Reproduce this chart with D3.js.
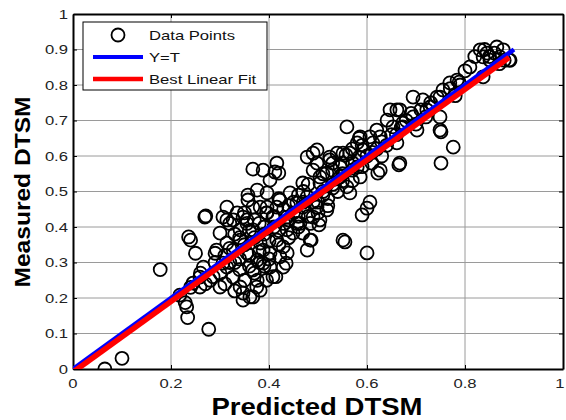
<!DOCTYPE html>
<html>
<head>
<meta charset="utf-8">
<script src="https://cdn.jsdelivr.net/npm/d3@7"></script>
<style>
  body { margin: 0; background: #fff; }
  text { font-family: Arial, "Liberation Sans", sans-serif; }
</style>
</head>
<body>
<div id="chart"></div>
<script>
// Predicted vs measured DTSM
const predicted = [
  0.065, 0.10, 0.178, 0.218, 0.232, 0.234, 0.229, 0.240, 0.236, 0.250,
  0.245, 0.259, 0.271, 0.277, 0.290, 0.266, 0.286, 0.300, 0.293, 0.306,
  0.320, 0.327, 0.341, 0.347, 0.361, 0.375, 0.395, 0.408, 0.367, 0.388,
  0.402, 0.422, 0.429, 0.300, 0.259, 0.314, 0.341, 0.355, 0.367, 0.382,
  0.327, 0.314, 0.314, 0.335, 0.355, 0.367, 0.395, 0.416, 0.437, 0.457,
  0.469, 0.484, 0.478, 0.437, 0.429, 0.402, 0.376, 0.382, 0.347, 0.306,
  0.314, 0.341, 0.355, 0.376, 0.388, 0.416, 0.437, 0.469, 0.490, 0.367,
  0.416, 0.412, 0.478, 0.490, 0.524, 0.539, 0.565, 0.571, 0.490, 0.518,
  0.545, 0.469, 0.504, 0.559, 0.565, 0.388, 0.402, 0.396, 0.422, 0.443,
  0.457, 0.478, 0.498, 0.518, 0.504, 0.484, 0.463, 0.408, 0.396, 0.449,
  0.551, 0.559, 0.647, 0.667, 0.641, 0.653, 0.620, 0.673, 0.586, 0.606,
  0.627, 0.612, 0.580, 0.592, 0.661, 0.667, 0.627, 0.498, 0.524, 0.551,
  0.545, 0.498, 0.580, 0.586, 0.504, 0.694, 0.714, 0.749, 0.769, 0.784,
  0.661, 0.673, 0.694, 0.729, 0.749, 0.776, 0.702, 0.831, 0.845, 0.865,
  0.878, 0.892, 0.871, 0.837, 0.851, 0.810, 0.837, 0.755, 0.743, 0.722,
  0.749, 0.606, 0.600, 0.590, 0.555, 0.600, 0.502, 0.486, 0.435, 0.414,
  0.584, 0.751, 0.751, 0.788, 0.665, 0.622, 0.557, 0.584, 0.420, 0.367,
  0.376, 0.357, 0.357, 0.269, 0.327, 0.347, 0.382, 0.396, 0.330, 0.350,
  0.370, 0.390, 0.410, 0.430, 0.450, 0.470, 0.490, 0.510, 0.530, 0.550,
  0.570, 0.600, 0.620, 0.640, 0.660, 0.680, 0.700, 0.720, 0.630, 0.610,
  0.540, 0.520, 0.500, 0.460, 0.440, 0.420, 0.400, 0.380, 0.360, 0.340,
  0.320, 0.300, 0.280, 0.310, 0.330, 0.350, 0.370, 0.390, 0.310, 0.290,
  0.260, 0.270, 0.240, 0.320, 0.340, 0.360, 0.380, 0.400, 0.420, 0.440,
  0.460, 0.480, 0.500, 0.520, 0.530, 0.550, 0.570, 0.590, 0.470, 0.450,
  0.430, 0.410, 0.380, 0.360, 0.340, 0.330, 0.350, 0.370, 0.390, 0.420,
  0.440, 0.460, 0.480, 0.510, 0.530, 0.820, 0.850, 0.860, 0.880, 0.870,
  0.890, 0.840, 0.800, 0.790, 0.770, 0.780, 0.730, 0.710, 0.690, 0.670,
  0.650, 0.630, 0.610, 0.590, 0.570, 0.550, 0.530, 0.510
];
const measured = [
  0.000, 0.030, 0.280, 0.208, 0.175, 0.145, 0.187, 0.363, 0.372, 0.326,
  0.242, 0.231, 0.431, 0.112, 0.326, 0.287, 0.260, 0.231, 0.335, 0.428,
  0.410, 0.335, 0.231, 0.194, 0.203, 0.231, 0.250, 0.260, 0.279, 0.298,
  0.327, 0.316, 0.344, 0.383, 0.259, 0.287, 0.392, 0.420, 0.392, 0.355,
  0.259, 0.456, 0.420, 0.440, 0.410, 0.456, 0.440, 0.456, 0.428, 0.410,
  0.383, 0.363, 0.335, 0.327, 0.287, 0.287, 0.250, 0.222, 0.214, 0.298,
  0.355, 0.363, 0.327, 0.307, 0.335, 0.363, 0.392, 0.456, 0.428, 0.203,
  0.580, 0.555, 0.597, 0.608, 0.589, 0.608, 0.608, 0.580, 0.560, 0.552,
  0.541, 0.524, 0.524, 0.513, 0.496, 0.560, 0.532, 0.496, 0.476, 0.496,
  0.468, 0.485, 0.456, 0.448, 0.420, 0.410, 0.410, 0.428, 0.456, 0.383,
  0.363, 0.682, 0.730, 0.730, 0.701, 0.682, 0.673, 0.682, 0.654, 0.654,
  0.654, 0.637, 0.637, 0.617, 0.637, 0.580, 0.560, 0.617, 0.597, 0.608,
  0.569, 0.580, 0.569, 0.541, 0.541, 0.766, 0.758, 0.766, 0.806, 0.814,
  0.730, 0.693, 0.710, 0.738, 0.673, 0.625, 0.673, 0.899, 0.890, 0.907,
  0.899, 0.870, 0.879, 0.879, 0.870, 0.851, 0.823, 0.786, 0.766, 0.730,
  0.710, 0.470, 0.453, 0.434, 0.358, 0.327, 0.406, 0.363, 0.298, 0.260,
  0.650, 0.580, 0.668, 0.808, 0.575, 0.552, 0.603, 0.597, 0.552, 0.563,
  0.504, 0.490, 0.476, 0.428, 0.420, 0.428, 0.456, 0.440, 0.300, 0.350,
  0.370, 0.380, 0.400, 0.410, 0.440, 0.470, 0.470, 0.500, 0.520, 0.550,
  0.560, 0.600, 0.620, 0.630, 0.660, 0.700, 0.690, 0.710, 0.600, 0.580,
  0.500, 0.480, 0.470, 0.430, 0.420, 0.390, 0.360, 0.330, 0.320, 0.310,
  0.300, 0.270, 0.250, 0.240, 0.220, 0.250, 0.270, 0.290, 0.320, 0.300,
  0.270, 0.240, 0.230, 0.340, 0.280, 0.290, 0.300, 0.310, 0.350, 0.370,
  0.400, 0.430, 0.440, 0.460, 0.560, 0.580, 0.620, 0.630, 0.500, 0.470,
  0.450, 0.430, 0.410, 0.390, 0.370, 0.380, 0.440, 0.420, 0.400, 0.480,
  0.460, 0.490, 0.520, 0.550, 0.580, 0.880, 0.880, 0.890, 0.870, 0.860,
  0.870, 0.900, 0.840, 0.800, 0.790, 0.770, 0.750, 0.730, 0.720, 0.680,
  0.660, 0.640, 0.610, 0.570, 0.530, 0.530, 0.510, 0.490
];
const xTicks = [0, 0.2, 0.4, 0.6, 0.8, 1];
const xTickLabels = ["0", "0.2", "0.4", "0.6", "0.8", "1"];
const yTicks = [0, 0.1, 0.2, 0.3, 0.4, 0.5, 0.6, 0.7, 0.8, 0.9, 1];
const yTickLabels = ["0", "0.1", "0.2", "0.3", "0.4", "0.5", "0.6", "0.7", "0.8", "0.9", "1"];
// line ends [x0, x1] and fit coefficients
const identityRange = [0, 0.9];
const fitRange = [0, 0.89];
const fitSlope = 0.996;
const fitIntercept = -0.009;
const legendLabels = ["Data Points", "Y=T", "Best Linear Fit"];

const W = 566, H = 420;
const m = { left: 73, right: 563, top: 14, bottom: 369 };
const sx = 1.28; // picture text is stretched sideways

const svg = d3.select("#chart").append("svg")
  .attr("width", W).attr("height", H);

const x = d3.scaleLinear().domain([0, 1]).range([m.left, m.right]);
const y = d3.scaleLinear().domain([0, 1]).range([m.bottom, m.top]);

svg.append("clipPath").attr("id", "plot-clip")
  .append("rect").attr("x", m.left).attr("y", m.top)
  .attr("width", m.right - m.left).attr("height", m.bottom - m.top);

// grid
const grid = svg.append("g").attr("stroke", "#9a9a9a").attr("stroke-width", 1);
grid.selectAll(".gx").data(xTicks.slice(1, -1)).enter().append("line")
  .attr("x1", d => x(d)).attr("x2", d => x(d)).attr("y1", m.top).attr("y2", m.bottom);
grid.selectAll(".gy").data(yTicks.slice(1, -1)).enter().append("line")
  .attr("y1", d => y(d)).attr("y2", d => y(d)).attr("x1", m.left).attr("x2", m.right);

// axes with inward ticks on all sides
const axB = svg.append("g").attr("transform", `translate(0,${m.bottom})`)
  .call(d3.axisBottom(x).tickValues(xTicks).tickSizeInner(-4).tickSizeOuter(0).tickFormat(""));
const axT = svg.append("g").attr("transform", `translate(0,${m.top})`)
  .call(d3.axisTop(x).tickValues(xTicks).tickSizeInner(-4).tickSizeOuter(0).tickFormat(""));
const axL = svg.append("g").attr("transform", `translate(${m.left},0)`)
  .call(d3.axisLeft(y).tickValues(yTicks).tickSizeInner(-4).tickSizeOuter(0).tickFormat(""));
const axR = svg.append("g").attr("transform", `translate(${m.right},0)`)
  .call(d3.axisRight(y).tickValues(yTicks).tickSizeInner(-4).tickSizeOuter(0).tickFormat(""));
[axB, axT, axL, axR].forEach(a => {
  a.select(".domain").attr("stroke", "#000").attr("stroke-width", 2);
  a.selectAll(".tick line").attr("stroke", "#000").attr("stroke-width", 1);
});

// tick labels (last one nudged so it stays inside the page)
svg.append("g").selectAll("text").data(xTicks).enter().append("text")
  .attr("transform", d => `translate(${Math.min(x(d), W - 6)},388) scale(${sx},1)`)
  .attr("text-anchor", "middle").attr("font-size", 13).attr("fill", "#222")
  .text((d, i) => xTickLabels[i]);
svg.append("g").selectAll("text").data(yTicks).enter().append("text")
  .attr("transform", d => `translate(68,${y(d) + 4.5}) scale(${sx},1)`)
  .attr("text-anchor", "end").attr("font-size", 13).attr("fill", "#222")
  .text((d, i) => yTickLabels[i]);

// axis titles
svg.append("text")
  .attr("x", 317).attr("y", 415)
  .attr("text-anchor", "middle").attr("font-size", 23).attr("font-weight", "bold")
  .attr("textLength", 211).attr("lengthAdjust", "spacingAndGlyphs")
  .text("Predicted DTSM");
svg.append("text")
  .attr("transform", "translate(30,192) rotate(-90)")
  .attr("text-anchor", "middle").attr("font-size", 22).attr("font-weight", "bold")
  .attr("textLength", 191).attr("lengthAdjust", "spacingAndGlyphs")
  .text("Measured DTSM");

// data
const pts = predicted.map((p, i) => ({ p, v: measured[i] }));
const plot = svg.append("g").attr("clip-path", "url(#plot-clip)");
plot.selectAll("circle").data(pts).enter().append("circle")
  .attr("cx", d => x(d.p)).attr("cy", d => y(d.v)).attr("r", 6.5)
  .attr("fill", "none").attr("stroke", "#000").attr("stroke-width", 1.8);

const line = d3.line().x(d => x(d[0])).y(d => y(d[1]));
plot.append("path")
  .attr("d", line(identityRange.map(v => [v, v])))
  .attr("stroke", "#0000ff").attr("stroke-width", 4.5).attr("fill", "none");
plot.append("path")
  .attr("d", line(fitRange.map(v => [v, fitSlope * v + fitIntercept])))
  .attr("stroke", "#ff0000").attr("stroke-width", 5.5).attr("fill", "none");

// legend
const lg = svg.append("g");
lg.append("rect").attr("x", 83).attr("y", 22).attr("width", 184).attr("height", 68)
  .attr("fill", "#fff").attr("stroke", "#000").attr("stroke-width", 1);
const rowsY = [35, 57, 79];
lg.append("circle").attr("cx", 118).attr("cy", rowsY[0]).attr("r", 6.5)
  .attr("fill", "none").attr("stroke", "#000").attr("stroke-width", 1.8);
lg.append("line").attr("x1", 93).attr("x2", 143).attr("y1", rowsY[1]).attr("y2", rowsY[1])
  .attr("stroke", "#0000ff").attr("stroke-width", 4);
lg.append("line").attr("x1", 93).attr("x2", 143).attr("y1", rowsY[2]).attr("y2", rowsY[2])
  .attr("stroke", "#ff0000").attr("stroke-width", 4.5);
lg.selectAll(".lt").data(legendLabels).enter().append("text")
  .attr("transform", (d, i) => `translate(149,${rowsY[i] + 4.5}) scale(${sx},1)`)
  .attr("font-size", 13).attr("fill", "#111")
  .text(d => d);
</script>
</body>
</html>
